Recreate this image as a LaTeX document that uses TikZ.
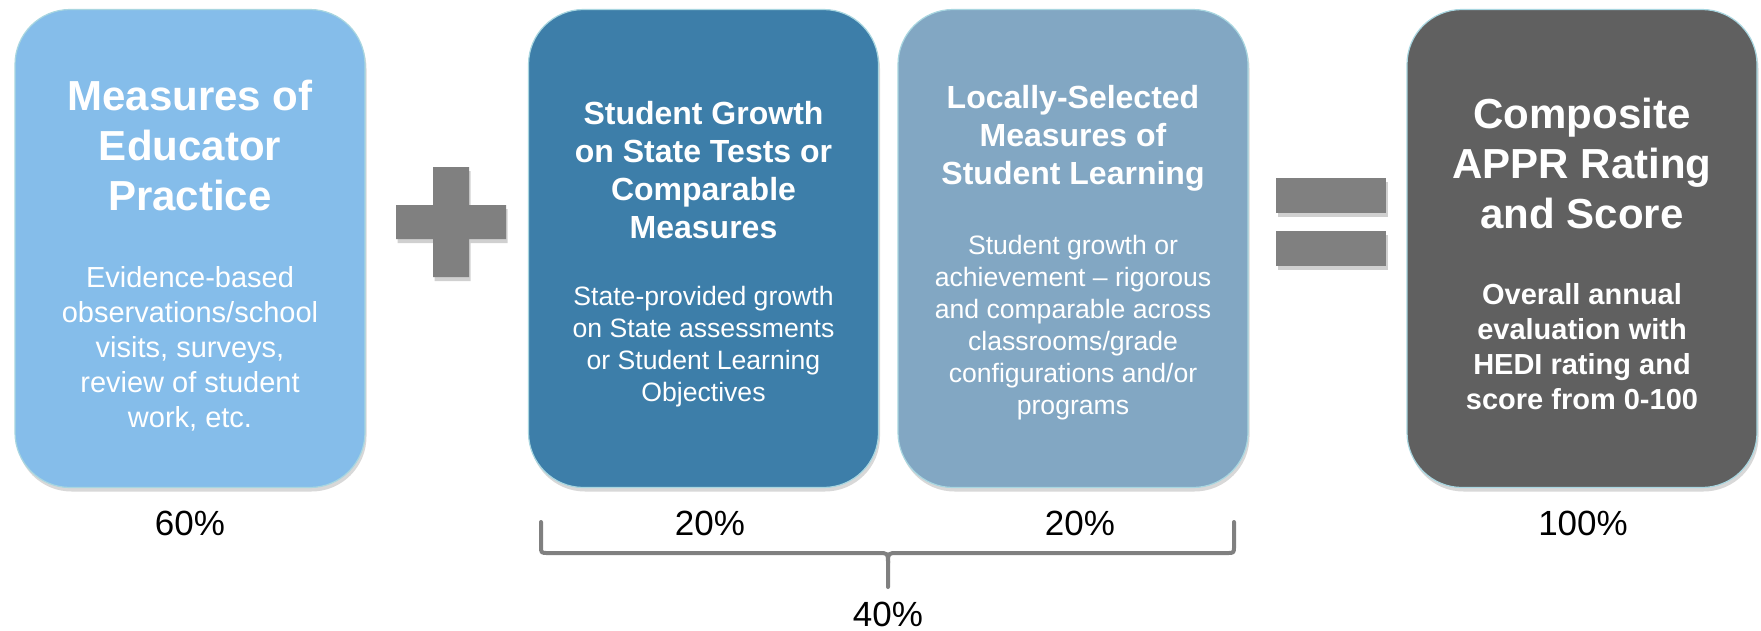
\documentclass[tikz,border=0pt]{standalone}
\usepackage{fontspec}
\setmainfont{Liberation Sans}
\usetikzlibrary{shadows}
\definecolor{boxA}{HTML}{85BDEA}
\definecolor{boxB}{HTML}{3D7EA9}
\definecolor{boxC}{HTML}{82A7C3}
\definecolor{boxD}{HTML}{606060}
\definecolor{edgeC}{HTML}{A8D6E0}
\definecolor{opgray}{HTML}{808080}
\tikzset{
  card/.style={draw=edgeC, line width=1.2pt, rounded corners=55pt,
    minimum width=350pt, minimum height=478pt, inner sep=0pt,
    drop shadow={shadow xshift=1.5pt, shadow yshift=-4pt, opacity=0.25, fill=black!60}},
  bigtitle/.style={text=white, align=center, inner sep=0pt,
    font=\fontsize{42}{50}\selectfont\bfseries},
  midtitle/.style={text=white, align=center, inner sep=0pt,
    font=\fontsize{32}{38}\selectfont\bfseries},
  bodytxt/.style={text=white, align=center, inner sep=0pt,
    font=\fontsize{29}{35}\selectfont},
  midbody/.style={text=white, align=center, inner sep=0pt,
    font=\fontsize{26.6}{32}\selectfont},
  boldbody/.style={text=white, align=center, inner sep=0pt,
    font=\fontsize{29}{35}\selectfont\bfseries},
  pct/.style={text=black, inner sep=0pt, font=\fontsize{35}{42}\selectfont},
  opfill/.style={fill=opgray,
    drop shadow={shadow xshift=1.5pt, shadow yshift=-4pt, opacity=0.3, fill=black!60}},
  bracestyle/.style={draw=opgray, line width=4pt, line cap=round, line join=round}
}
\begin{document}
\begin{tikzpicture}[x=1pt,y=-1pt]
\useasboundingbox (0,0) rectangle (1761,630);
\fill[white] (0,0) rectangle (1761,630);

% cards
\node[card, fill=boxA] (c1) at (190,248.5) {};
\node[card, fill=boxB] (c2) at (703.5,248.5) {};
\node[card, fill=boxC] (c3) at (1073,248.5) {};
\node[card, fill=boxD] (c4) at (1582,248.5) {};

% card 1 text
\node[bigtitle] (t1) at (190,145) {Measures of\\Educator\\Practice};
\node[bodytxt] (d1) at (190,349) {Evidence-based\\observations/school\\visits, surveys,\\review of student\\work, etc.};

% card 2 text
\node[midtitle] (t2) at (703.5,170) {Student Growth\\on State Tests or\\Comparable\\Measures};
\node[midbody] (d2) at (703.5,347) {State-provided growth\\on State assessments\\or Student Learning\\Objectives};

% card 3 text
\node[midtitle] (t3) at (1073,138.5) {Locally-Selected\\Measures of\\Student Learning};
\node[midbody] (d3) at (1073,328) {Student growth or\\achievement – rigorous\\and comparable across\\classrooms/grade\\configurations and/or\\programs};

% card 4 text
\node[bigtitle] (t4) at (1582,163) {Composite\\APPR Rating\\and Score};
\node[boldbody] (d4) at (1582,347) {Overall annual\\evaluation with\\HEDI rating and\\score from 0-100};

% plus sign
\path[opfill] (433,167) -- (469,167) -- (469,205) -- (506,205) -- (506,239)
  -- (469,239) -- (469,277) -- (433,277) -- (433,239) -- (396,239)
  -- (396,205) -- (433,205) -- cycle;

% equals sign
\path[opfill] (1276,178) rectangle (1386,213);
\path[opfill] (1276,231) rectangle (1386,266);

% percentages
\node[pct] (p1) at (190,523) {60\%};
\node[pct] (p2) at (710,523) {20\%};
\node[pct] (p3) at (1080,523) {20\%};
\node[pct] (p4) at (1583,523) {100\%};
\node[pct] (p5) at (888,614) {40\%};

% brace
\coordinate (bl) at (541,522);
\coordinate (br) at (1234,522);
\coordinate (bm) at (888,587);
\draw[bracestyle] (bl) -- (541,546) .. controls (541,553) .. (548,553)
  -- (878,553) .. controls (888,553) .. (888,563) -- (bm);
\draw[bracestyle] (br) -- (1234,546) .. controls (1234,553) .. (1227,553)
  -- (898,553) .. controls (888,553) .. (888,563);
\end{tikzpicture}
\end{document}
